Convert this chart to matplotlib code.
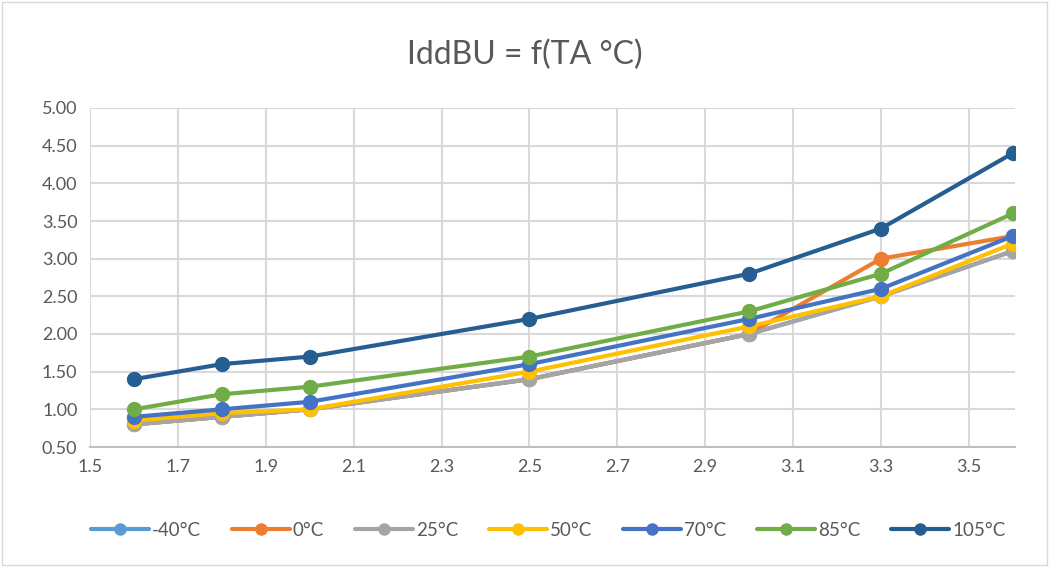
import matplotlib
matplotlib.use("Agg")
import matplotlib.pyplot as plt
import numpy as np

plt.rcParams['font.family'] = ['Lato', 'DejaVu Sans']

x = [1.6, 1.8, 2.0, 2.5, 3.0, 3.3, 3.6]
labels = ['-40°C', '0°C', '25°C', '50°C', '70°C', '85°C', '105°C']
m40 = [0.80, 0.90, 1.00, 1.40, 2.00, 2.50, 3.10]
t0 = [0.80, 0.90, 1.00, 1.40, 2.00, 3.00, 3.30]
t25 = [0.80, 0.90, 1.00, 1.40, 2.00, 2.50, 3.10]
t50 = [0.85, 0.95, 1.00, 1.50, 2.10, 2.50, 3.20]
t70 = [0.90, 1.00, 1.10, 1.60, 2.20, 2.60, 3.30]
t85 = [1.00, 1.20, 1.30, 1.70, 2.30, 2.80, 3.60]
t105 = [1.40, 1.60, 1.70, 2.20, 2.80, 3.40, 4.40]
series = [m40, t0, t25, t50, t70, t85, t105]
colors = ['#5B9BD5', '#ED7D31', '#A5A5A5', '#FFC000', '#4472C4', '#70AD47', '#255E91']

fig = plt.figure(figsize=(10.5, 5.67), dpi=100)
ax = fig.add_axes([90 / 1050, 1 - 447 / 567, (1015 - 90) / 1050, (447 - 108) / 567])

for ys, lab, c in zip(series, labels, colors):
    ax.plot(x, ys, color=c, lw=3, marker='o', ms=10, label=lab, solid_capstyle='round')

ax.set_xlim(1.5, 3.605)
ax.set_ylim(0.5, 5.0)
ax.set_xticks(np.arange(1.5, 3.51, 0.2))
ax.set_xticklabels([f'{v:.1f}' for v in np.arange(1.5, 3.51, 0.2)])
ax.set_yticks(np.arange(0.5, 5.01, 0.5))
ax.set_yticklabels([f'{v:.2f}' for v in np.arange(0.5, 5.01, 0.5)])
ax.grid(True, color='#D9D9D9', lw=1.5)
ax.set_axisbelow(True)
for s in ['top', 'right', 'left']:
    ax.spines[s].set_visible(False)
ax.spines['bottom'].set_color('#BFBFBF')
ax.spines['bottom'].set_linewidth(1.5)
ax.tick_params(length=0, labelsize=13, colors='#595959', pad=9)

fig.text(0.5, 1 - 55 / 567, 'IddBU = f(TA °C)', ha='center', va='center',
         fontsize=23, color='#595959')

leg = fig.legend(loc='center', bbox_to_anchor=(0.522, 1 - 530 / 567), ncol=7,
                 frameon=False, fontsize=13.5, handlelength=3.1, columnspacing=1.65,
                 handletextpad=0.15, markerscale=0.8)
for t in leg.get_texts():
    t.set_color('#595959')

fig.patches.append(plt.Rectangle((0.002, 0.003), 0.995, 0.993, transform=fig.transFigure,
                                 fill=False, edgecolor='#D9D9D9', lw=1))

fig.savefig('out.png', dpi=100)
